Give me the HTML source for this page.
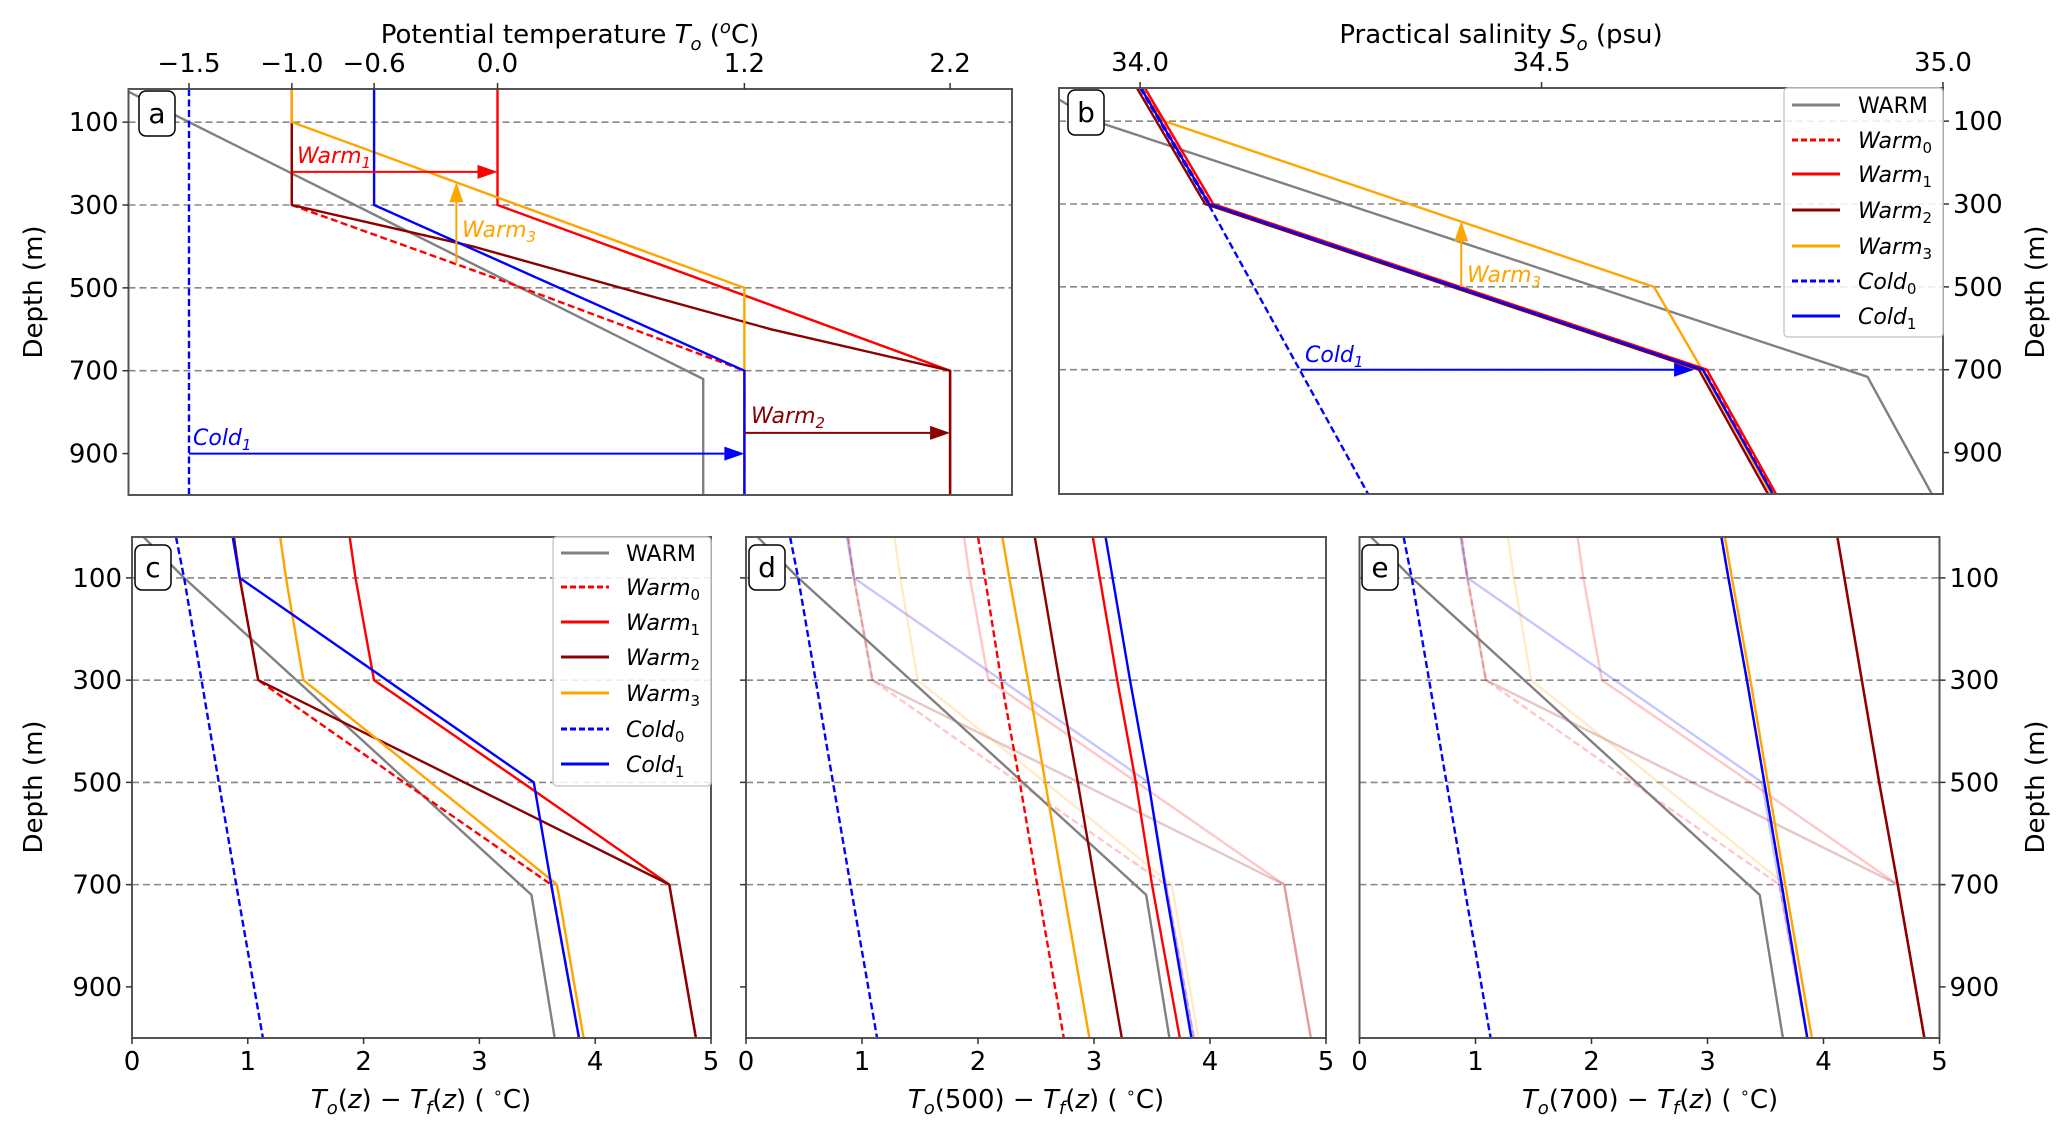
<!DOCTYPE html>
<html><head><meta charset="utf-8">
<style>
html,body{margin:0;padding:0;background:#fff;}
svg{display:block;font-family:"DejaVu Sans","Liberation Sans",sans-serif;}
</style></head>
<body>
<svg id="fig" width="2067" height="1129" viewBox="0 0 2067 1129" xmlns="http://www.w3.org/2000/svg">
<rect width="2067" height="1129" fill="#fff"/>
<text x="570" y="43" font-size="26" text-anchor="middle">Potential temperature <tspan font-style="italic">T</tspan><tspan font-size="18" dy="7" font-style="italic">o</tspan><tspan dy="-7"> (</tspan><tspan font-size="18" dy="-10" font-style="italic">o</tspan><tspan dy="10">C)</tspan></text>
<text x="1501" y="43" font-size="26" text-anchor="middle">Practical salinity <tspan font-style="italic">S</tspan><tspan font-size="18" dy="7" font-style="italic">o</tspan><tspan dy="-7"> (psu)</tspan></text>
<text transform="translate(42,292) rotate(-90)" font-size="26" text-anchor="middle">Depth (m)</text>
<text transform="translate(2044,292) rotate(-90)" font-size="26" text-anchor="middle">Depth (m)</text>
<text transform="translate(42,787) rotate(-90)" font-size="26" text-anchor="middle">Depth (m)</text>
<text transform="translate(2044,787) rotate(-90)" font-size="26" text-anchor="middle">Depth (m)</text>
<text x="421" y="1108" font-size="26" text-anchor="middle"><tspan font-style="italic">T</tspan><tspan font-size="18" dy="6" font-style="italic">o</tspan><tspan dy="-6">(</tspan><tspan font-style="italic">z</tspan>) − <tspan font-style="italic">T</tspan><tspan font-size="18" dy="6" font-style="italic">f</tspan><tspan dy="-6">(</tspan><tspan font-style="italic">z</tspan>) ( <tspan font-size="16" dy="-10">∘</tspan><tspan dy="10">C)</tspan></text>
<text x="1036" y="1108" font-size="26" text-anchor="middle"><tspan font-style="italic">T</tspan><tspan font-size="18" dy="6" font-style="italic">o</tspan><tspan dy="-6">(500) − </tspan><tspan font-style="italic">T</tspan><tspan font-size="18" dy="6" font-style="italic">f</tspan><tspan dy="-6">(</tspan><tspan font-style="italic">z</tspan>) ( <tspan font-size="16" dy="-10">∘</tspan><tspan dy="10">C)</tspan></text>
<text x="1650" y="1108" font-size="26" text-anchor="middle"><tspan font-style="italic">T</tspan><tspan font-size="18" dy="6" font-style="italic">o</tspan><tspan dy="-6">(700) − </tspan><tspan font-style="italic">T</tspan><tspan font-size="18" dy="6" font-style="italic">f</tspan><tspan dy="-6">(</tspan><tspan font-style="italic">z</tspan>) ( <tspan font-size="16" dy="-10">∘</tspan><tspan dy="10">C)</tspan></text>
<g id="layer"></g>
</svg>
<script>
const NS="http://www.w3.org/2000/svg";
const depthTicks=[100,300,500,700,900];
const gridDepths=[100,300,500,700];
const tempTicks=[-1.5,-1.0,-0.6,0.0,1.2,2.2];
const tempTickLabels=["−1.5","−1.0","−0.6","0.0","1.2","2.2"];
const salTicks=[34.0,34.5,35.0];
const salTickLabels=["34.0","34.5","35.0"];
const diffTicks=[0,1,2,3,4,5];
const aWarmD=[20,100,720,1000], aWarmV=[-1.82,-1.5,1.0,1.0];
const aWarm0D=[20,300,500,700,1000], aWarm0V=[-1.0,-1.0,0.12,1.2,1.2];
const aWarm1D=[20,300,700,1000], aWarm1V=[0,0,2.2,2.2];
const aWarm2D=[20,300,400,500,600,700,1000], aWarm2V=[-1,-1,-0.12,0.6,1.33,2.2,2.2];
const aWarm3D=[20,100,500,1000], aWarm3V=[-1,-1,1.2,1.2];
const aCold0D=[20,1000], aCold0V=[-1.5,-1.5];
const aCold1D=[20,300,700,1000], aCold1V=[-0.6,-0.6,1.2,1.2];
const bWarmD=[20,100,717,1000], bWarmV=[33.875,33.944,34.906,34.986];
const bBaseD=[20,300,700,1000];
const bWarm0V=[34.002,34.087,34.702,34.789];
const bWarm1V=[34.006,34.091,34.706,34.792];
const bWarm2V=[33.996,34.081,34.696,34.782];
const bCold1V=[34.001,34.086,34.701,34.788];
const bWarm3D=[20,100,500,700,1000], bWarm3V=[34.0,34.03,34.64,34.70,34.786];
const bCold0D=[20,300,1000], bCold0V=[34.0,34.085,34.284];
const Z=[20,100,300,500,700,1000];
const cWarmD=[20,100,300,720,1000], cWarmV=[0.1,0.45,1.42,3.45,3.65];
const cWarm0=[0.88,0.93,1.09,2.35,3.62,3.86];
const cWarm1=[1.88,1.93,2.09,3.37,4.64,4.87];
const cWarm2=[0.88,0.93,1.09,2.87,4.64,4.87];
const cWarm3=[1.28,1.33,1.48,2.58,3.67,3.90];
const cCold0=[0.38,0.45,0.60,0.75,0.90,1.13];
const cCold1=[0.87,0.93,2.2,3.47,3.62,3.86];
const dWarm0=[2.0,2.06,2.2,2.36,2.51,2.74];
const dWarm1=[2.99,3.05,3.2,3.36,3.5,3.74];
const dWarm2=[2.49,2.55,2.70,2.86,3.01,3.24];
const dWarm3=[2.21,2.27,2.43,2.58,2.73,2.96];
const dCold1=[3.1,3.16,3.31,3.47,3.61,3.84];
const eWarm0=[3.12,3.18,3.34,3.49,3.64,3.86];
const eWarm1=[4.12,4.18,4.33,4.48,4.64,4.87];
const eWarm2=[4.12,4.18,4.33,4.48,4.64,4.87];
const eWarm3=[3.15,3.21,3.37,3.52,3.67,3.90];
const eCold1=[3.12,3.18,3.34,3.49,3.64,3.86];
const legendLabels=[["WARM",""],["Warm","0"],["Warm","1"],["Warm","2"],["Warm","3"],["Cold","0"],["Cold","1"]];

const COL={warm:"#808080",warm0:"#ff0000",warm1:"#ff0000",warm2:"#8b0000",warm3:"#ffa500",cold0:"#0000ff",cold1:"#0000ff"};
const DASH={warm0:"7,3.5",cold0:"7,3.5"};
const layer=document.getElementById("layer");

function el(tag,parent,attrs){const e=document.createElementNS(NS,tag);for(const k in attrs)e.setAttribute(k,attrs[k]);parent.appendChild(e);return e;}
function scale(d0,d1,p0,p1){return v=>p0+(v-d0)*(p1-p0)/(d1-d0);}

function panel(id,x0,x1,y0,y1,xd){
  const P={id,x0,x1,y0,y1,sx:scale(xd[0],xd[1],x0,x1),sy:scale(20,1000,y0,y1)};
  const g=el("g",layer,{});
  
  
  const cp=el("clipPath",g,{id:"clip"+id});
  el("rect",cp,{x:x0,y:y0,width:x1-x0,height:y1-y0});
  for(const d of gridDepths){
    const l=el("line",g,{x1:x0,x2:x1,y1:P.sy(d),y2:P.sy(d),stroke:"#888",
      "stroke-width":1.6,"stroke-dasharray":"7,4"});
    
    
  }
  P.g=el("g",g,{"clip-path":"url(#clip"+id+")"});
  P.frame=g;
  return P;
}
function frame(P){
  const r=el("rect",P.frame,{x:P.x0,y:P.y0,width:P.x1-P.x0,height:P.y1-P.y0,fill:"none",stroke:"#555","stroke-width":2});
  
  
}
function series(P,name,ds,vs,opts={}){
  const pts=ds.map((d,i)=>P.sx(vs[i]).toFixed(1)+","+P.sy(d).toFixed(1)).join(" ");
  const a={points:pts,fill:"none",stroke:COL[name],"stroke-width":opts.w||2.4,"stroke-linejoin":"round"};
  if(DASH[name])a["stroke-dasharray"]=DASH[name];
  if(opts.op)a["stroke-opacity"]=opts.op;
  const l=el("polyline",P.g,a);
  
  
}
function depthAxis(P,side,labels){
  for(const d of depthTicks){
    const y=P.sy(d);
    const x=side==="left"?P.x0:P.x1;
    const t=el("line",P.frame,{x1:x,x2:side==="left"?x-6:x+6,y1:y,y2:y,stroke:"#333","stroke-width":1.5});
    
    
    if(labels){
      const tx=el("text",P.frame,{x:side==="left"?x-10:x+10,y:y+9,"font-size":26,"text-anchor":side==="left"?"end":"start"});
      tx.textContent=String(d);
      
      
    }
  }
}
function xAxis(P,pos,ticks,labels){
  ticks.forEach((v,i)=>{
    const x=P.sx(v);
    const y=pos==="top"?P.y0:P.y1;
    const t=el("line",P.frame,{x1:x,x2:x,y1:y,y2:pos==="top"?y-6:y+6,stroke:"#333","stroke-width":1.5});
    
    
    const tx=el("text",P.frame,{x:x,y:pos==="top"?y-17:y+32,"font-size":26,"text-anchor":"middle"});
    tx.textContent=labels[i];
    
    
  });
}
function panelLabel(P,ch,x,y){
  const r=el("rect",P.frame,{x:x,y:y,width:36,height:45,rx:7,fill:"#fff",stroke:"#000","stroke-width":1.5});
  
  
  const t=el("text",P.frame,{x:x+18,y:y+32,"font-size":28,"text-anchor":"middle"});
  t.textContent=ch;
  
  
}
function arrow(P,name,xa,da,xb,db,color){
  const X1=P.sx(xa),Y1=P.sy(da),X2=P.sx(xb),Y2=P.sy(db);
  const len=Math.hypot(X2-X1,Y2-Y1),ux=(X2-X1)/len,uy=(Y2-Y1)/len;
  const hl=20,hw=7;
  const bx=X2-ux*hl,by=Y2-uy*hl;
  const l=el("line",P.frame,{x1:X1,y1:Y1,x2:bx,y2:by,stroke:color,"stroke-width":2});
  
  
  const h=el("polygon",P.frame,{points:`${X2},${Y2} ${bx-uy*hw},${by+ux*hw} ${bx+uy*hw},${by-ux*hw}`,fill:color});
  
  
}
function annot(P,name,base,sub,x,y,color){
  const t=el("text",P.frame,{x:x,y:y,"font-size":22,fill:color,"font-style":"italic"});
  
  
  t.appendChild(document.createTextNode(base));
  const s=el("tspan",t,{"font-size":15,dy:5});
  s.textContent=sub;
}
function legend(P,x,y,w,h,lx,tx,rows){
  const g=el("g",P.frame,{});
  
  
  const r=el("rect",g,{x:x,y:y,width:w,height:h,rx:4,fill:"#fff","fill-opacity":0.85,stroke:"#ccc","stroke-width":1.5});
  
  
  const names=["warm","warm0","warm1","warm2","warm3","cold0","cold1"];
  names.forEach((n,i)=>{
    const yy=rows[i];
    const a={x1:lx,x2:lx+48,y1:yy,y2:yy,stroke:COL[n],"stroke-width":3};
    if(DASH[n])a["stroke-dasharray"]="6,3";
    const l=el("line",g,a);
    
    
    const t=el("text",g,{x:tx,y:yy+8,"font-size":22});
    
    
    if(i===0){t.textContent=legendLabels[i][0];}
    else{
      const m=el("tspan",t,{"font-style":"italic"});m.textContent=legendLabels[i][0];
      const s=el("tspan",t,{"font-size":15,dy:5});s.textContent=legendLabels[i][1];
    }
  });
}

const A=panel("a",128.5,1012,89,495,[-1.794,2.501]);
series(A,"warm",aWarmD,aWarmV);
series(A,"warm0",aWarm0D,aWarm0V);
series(A,"warm1",aWarm1D,aWarm1V);
series(A,"warm2",aWarm2D,aWarm2V);
series(A,"warm3",aWarm3D,aWarm3V);
series(A,"cold0",aCold0D,aCold0V);
series(A,"cold1",aCold1D,aCold1V);
frame(A);
depthAxis(A,"left",true);
xAxis(A,"top",tempTicks,tempTickLabels);
arrow(A,"warm1",-1.0,220,0.0,220,"#ff0000");
annot(A,"warm1","Warm","1",297,163,"#ff0000");
arrow(A,"warm3",-0.2,441,-0.2,245,"#ffa500");
annot(A,"warm3","Warm","3",462,237,"#ffa500");
arrow(A,"warm2",1.2,850,2.2,850,"#8b0000");
annot(A,"warm2","Warm","2",751,423,"#8b0000");
arrow(A,"cold1",-1.5,900,1.2,900,"#0000ff");
annot(A,"cold1","Cold","1",193,445,"#0000ff");
panelLabel(A,"a",139,91);

const B=panel("b",1059,1943,88,494,[33.899,35.0]);
series(B,"warm",bWarmD,bWarmV);
series(B,"warm3",bWarm3D,bWarm3V);
series(B,"cold0",bCold0D,bCold0V);
series(B,"warm2",bBaseD,bWarm2V);
series(B,"warm1",bBaseD,bWarm1V);
series(B,"warm0",bBaseD,bWarm0V);
series(B,"cold1",bBaseD,bCold1V);
frame(B);
depthAxis(B,"right",true);
xAxis(B,"top",salTicks,salTickLabels);
arrow(B,"warm3-b",34.40,500,34.40,342,"#ffa500");
annot(B,"warm3-b","Warm","3",1467,282,"#ffa500");
arrow(B,"cold1-b",34.2,700,34.69,700,"#0000ff");
annot(B,"cold1-b","Cold","1",1305,362,"#0000ff");
panelLabel(B,"b",1068,90);
legend(B,1784,88,159,249,1792,1858,[105,140,174,210,246,281,316]);

const C=panel("c",132,711,537,1038,[0,5]);
series(C,"warm",cWarmD,cWarmV);
series(C,"warm0",Z,cWarm0);
series(C,"warm1",Z,cWarm1);
series(C,"warm2",Z,cWarm2);
series(C,"warm3",Z,cWarm3);
series(C,"cold0",Z,cCold0);
series(C,"cold1",Z,cCold1);
frame(C);
depthAxis(C,"left",true);
xAxis(C,"bottom",diffTicks,diffTicks.map(String));
panelLabel(C,"c",135,545);
legend(C,553,537,158,249,561,626,[553,587,622,657,693,729,764]);

function faded(P){
  series(P,"warm0",Z,cWarm0,{op:0.22});
  series(P,"warm1",Z,cWarm1,{op:0.22});
  series(P,"warm2",Z,cWarm2,{op:0.22});
  series(P,"warm3",Z,cWarm3,{op:0.22});
  series(P,"cold1",Z,cCold1,{op:0.22});
}
const Dp=panel("d",746,1326,537,1038,[0,5]);
faded(Dp);
series(Dp,"warm",cWarmD,cWarmV);
series(Dp,"cold0",Z,cCold0);
series(Dp,"warm0",Z,dWarm0);
series(Dp,"warm3",Z,dWarm3);
series(Dp,"warm2",Z,dWarm2);
series(Dp,"warm1",Z,dWarm1);
series(Dp,"cold1",Z,dCold1);
frame(Dp);
depthAxis(Dp,"left",false);
xAxis(Dp,"bottom",diffTicks,diffTicks.map(String));
panelLabel(Dp,"d",749,545);

const E=panel("e",1359.5,1939.5,537,1038,[0,5]);
faded(E);
series(E,"warm",cWarmD,cWarmV);
series(E,"cold0",Z,cCold0);
series(E,"warm1",Z,eWarm1);
series(E,"warm2",Z,eWarm2);
series(E,"warm0",Z,eWarm0);
series(E,"warm3",Z,eWarm3);
series(E,"cold1",Z,eCold1);
frame(E);
depthAxis(E,"right",true);
xAxis(E,"bottom",diffTicks,diffTicks.map(String));
panelLabel(E,"e",1362,545);
</script>
</body></html>
